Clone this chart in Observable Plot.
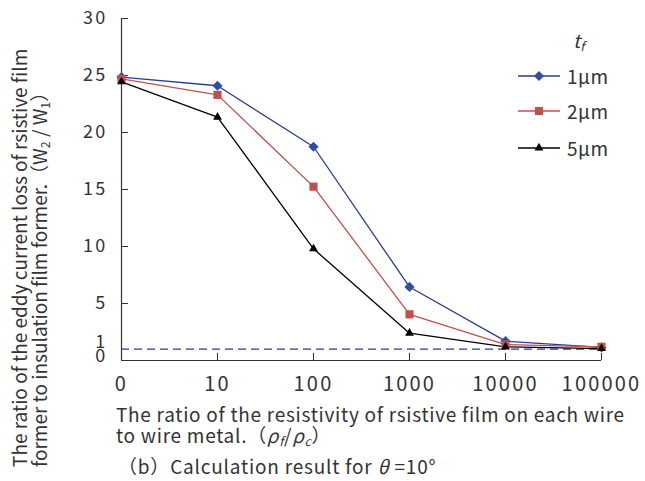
<!DOCTYPE html>
<html><head><meta charset="utf-8">
<script src="https://cdn.jsdelivr.net/npm/d3@7"></script>
<script src="https://cdn.jsdelivr.net/npm/@observablehq/plot@0.6"></script>
<style>
body{margin:0;background:#fff;}
#wrap{position:relative;width:645px;height:481px;font-family:"Noto Sans CJK JP","Noto Sans",sans-serif;color:#333;overflow:hidden;}
#wrap > svg{position:absolute;left:0;top:0;}
.ytitle{position:absolute;left:9px;top:467px;transform-origin:0 0;transform:rotate(-90deg);white-space:nowrap;font-size:19px;line-height:20px;}
.xtitle{position:absolute;left:116px;top:403px;white-space:nowrap;font-size:19px;line-height:21px;letter-spacing:0.72px;}
.caption{position:absolute;left:118px;top:452px;white-space:nowrap;font-size:19px;letter-spacing:0.8px;}
.legend{position:absolute;left:516px;top:26px;font-size:19px;}
.legend .tf{position:absolute;left:57px;top:0;font-style:italic;font-size:19px;}
.legend .item{position:absolute;left:0;height:20px;white-space:nowrap;}
.legend .item svg{position:absolute;left:0;top:0;}
.legend .item span{position:absolute;left:51px;top:-4px;letter-spacing:0.5px;}
sub{font-size:65%;vertical-align:-3px;}
</style></head>
<body><div id="wrap"></div>
<script>
const categories = ["0","10","100","1000","10000","100000"];
const seriesNames = ["1μm","2μm","5μm"];
const values1um = [24.85, 24.1, 18.75, 6.45, 1.7, 1.15];
const values2um = [24.7, 23.3, 15.25, 4.05, 1.4, 1.2];
const values5um = [24.45, 21.35, 9.8, 2.4, 1.2, 1.05];
const yTicksMain = [5, 10, 15, 20, 25, 30];
const yTickOne = [1];
const yTickZero = [0];
const referenceLevel = [1];

const lineColors = ["#2b3a95", "#c0504d", "#000000"];
const markerColors = ["#2f4fa3", "#c0504d", "#000000"];
const symbols = ["diamond2", "square", "triangle"];
const radii = [4.6, 4.6, 3.3];
const seriesValues = [values1um, values2um, values5um];

const rows = seriesNames.flatMap((s, i) => categories.map((c, j) => ({series: s, cat: c, value: seriesValues[i][j], idx: i})));

const marks = [
  Plot.ruleY(referenceLevel, {stroke: "#2b3a95", strokeWidth: 1.4, strokeDasharray: "8,5"}),
  Plot.ruleY(yTickZero, {stroke: "#333", strokeWidth: 1.2}),
  Plot.ruleX([categories[0]], {stroke: "#333", strokeWidth: 1.2}),
  Plot.axisX(categories, {tickSize: -7, tickPadding: 23, fontSize: 20, stroke: "#333", label: null}),
  Plot.axisY(yTicksMain, {tickSize: -7, tickPadding: 21, fontSize: 18, stroke: "#333", label: null}),
  Plot.axisY(yTickOne, {tickSize: 0, tickPadding: 14, fontSize: 18, dy: -7, label: null}),
  Plot.axisY(yTickZero, {tickSize: 0, tickPadding: 14, fontSize: 18, dy: -4, label: null})
];
seriesNames.forEach((s, i) => {
  const d = rows.filter(r => r.series === s);
  marks.push(Plot.line(d, {x: "cat", y: "value", stroke: lineColors[i], strokeWidth: 1.3}));
});
seriesNames.forEach((s, i) => {
  const d = rows.filter(r => r.series === s);
  marks.push(Plot.dot(d, {x: "cat", y: "value", symbol: symbols[i], r: radii[i], fill: markerColors[i], stroke: "none"}));
});

const chart = Plot.plot({
  width: 645,
  height: 481,
  marginLeft: 121,
  marginRight: 44,
  marginTop: 18,
  marginBottom: 121,
  style: {fontFamily: '"Noto Sans CJK JP","Noto Sans",sans-serif', color: "#333", background: "#fff"},
  x: {type: "point", domain: categories, padding: 0, label: null},
  y: {domain: [0, 30], label: null},
  marks
});
chart.querySelectorAll('g[aria-label="x-axis tick label"], g[aria-label="y-axis tick label"]').forEach(g => g.style.letterSpacing = "2.2px");

const wrap = document.getElementById("wrap");
wrap.appendChild(chart);

const yt = document.createElement("div");
yt.className = "ytitle";
yt.innerHTML = "The ratio of the eddy current loss of rsistive film<br>former to insulation film former.（W<sub>2</sub> / W<sub>1</sub>）";
wrap.appendChild(yt);

const xt = document.createElement("div");
xt.className = "xtitle";
xt.innerHTML = "The ratio of the resistivity of rsistive film on each wire<br>to wire metal.（<i>ρ<sub>f</sub></i>/<i>ρ<sub>c</sub></i>）";
wrap.appendChild(xt);

const cap = document.createElement("div");
cap.className = "caption";
cap.innerHTML = "（b）Calculation result for <i>θ</i> =10°";
wrap.appendChild(cap);

const lg = document.createElement("div");
lg.className = "legend";
lg.innerHTML = '<div class="tf">t<sub>f</sub></div>';
const itemTops = [40, 75, 112];
seriesNames.forEach((s, i) => {
  const it = document.createElement("div");
  it.className = "item";
  it.style.top = itemTops[i] + "px";
  const sv = d3.create("svg").attr("width", 48).attr("height", 20);
  sv.append("line").attr("x1", 2).attr("x2", 44).attr("y1", 10).attr("y2", 10).attr("stroke", lineColors[i]).attr("stroke-width", 1.3);
  const symMap = {diamond2: d3.symbolDiamond2, square: d3.symbolSquare, triangle: d3.symbolTriangle};
  sv.append("path").attr("transform", "translate(23,10)").attr("d", d3.symbol(symMap[symbols[i]], Math.PI * radii[i] * radii[i])()).attr("fill", markerColors[i]);
  it.appendChild(sv.node());
  const sp = document.createElement("span");
  sp.textContent = s;
  it.appendChild(sp);
  lg.appendChild(it);
});
wrap.appendChild(lg);
</script>
</body></html>
